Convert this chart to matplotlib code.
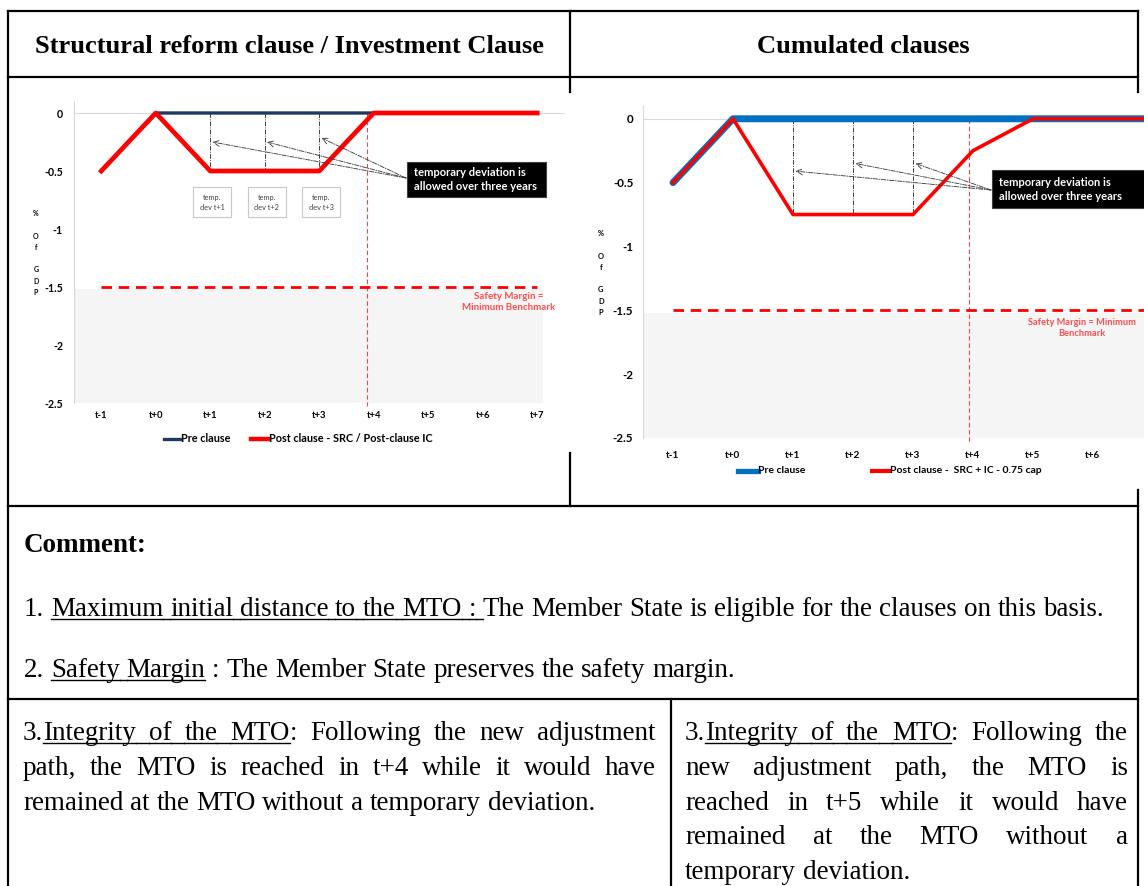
import numpy as np
import matplotlib
matplotlib.use("Agg")
import matplotlib.pyplot as plt
from matplotlib.lines import Line2D
from matplotlib.patches import Rectangle
from matplotlib.transforms import Affine2D

W, H = 1144, 886

periods = ["t-1", "t+0", "t+1", "t+2", "t+3", "t+4", "t+5", "t+6", "t+7"]
src_pre = [-0.5, 0, 0, 0, 0, 0, 0, 0, 0]
src_post = [-0.5, 0, -0.5, -0.5, -0.5, 0, 0, 0, 0]
cum_pre = [-0.5, 0, 0, 0, 0, 0, 0, 0, 0]
cum_post = [-0.5, 0, -0.75, -0.75, -0.75, -0.25, 0, 0, 0]
safety_margin = -1.5
yticks = [0, -0.5, -1, -1.5, -2, -2.5]
dev_years = ["t+1", "t+2", "t+3"]
mto_year = "t+4"
src_arrow_tips = [-0.25, -0.25, -0.215]
cum_arrow_tips = [-0.41, -0.35, -0.35]

SERIF = ["Liberation Serif", "DejaVu Serif"]
SANS = ["Lato", "DejaVu Sans"]

fig = plt.figure(figsize=(W / 100, H / 100), dpi=100)
px = Affine2D().scale(1 / W, -1 / H).translate(0, 1) + fig.transFigure
R = fig.canvas.get_renderer()


def width(s, **kw):
    t = fig.text(0, 0, s, **kw)
    w = t.get_window_extent(R).width
    t.remove()
    return w


def fit(s, target, **kw):
    return 10 * target / width(s, fontsize=10, **kw)


def hline(x0, x1, y, lw=1.6, color="black"):
    fig.add_artist(Line2D([x0, x1], [y, y], transform=px, color=color, lw=lw))


def vline(x, y0, y1, lw=1.6):
    fig.add_artist(Line2D([x, x], [y0, y1], transform=px, color="black", lw=lw))


def put(x, y, s, **kw):
    fig.text(x, y, s, transform=px, **kw)


def add_ax(x0, y0, x1, y1):
    return fig.add_axes([x0 / W, 1 - y1 / H, (x1 - x0) / W, (y1 - y0) / H])


# ---------- table frame ----------
hline(8, 1138, 11)
hline(8, 1138, 77)
hline(8, 1138, 506)
hline(8, 1138, 699)
vline(8, 11, 886)
vline(570, 11, 92)
vline(570, 453, 506)
vline(1138, 11, 92)
vline(1138, 490, 886)
vline(671, 699, 886)

head_kw = dict(family=SERIF, weight="bold")
head_size = fit("Structural reform clause / Investment Clause", 512, **head_kw)
put(289, 53, "Structural reform clause / Investment Clause", fontsize=head_size,
    ha="center", va="baseline", **head_kw)
put(863, 53, "Cumulated clauses", fontsize=head_size, ha="center", va="baseline", **head_kw)

body_size = fit("1. Maximum initial distance to the MTO : The Member State is eligible "
                "for the clauses on this basis.", 1082, family=SERIF)
body_kw = dict(family=SERIF, fontsize=body_size, color="black")
space = width("a a", **body_kw) - width("aa", **body_kw)


def write_line(s, x0, y, x1=None):
    # '_' toggles underline; x1 given -> justified between x0 and x1
    state = False
    words, gaps = [], []
    for n, w in enumerate(s.split(" ")):
        if n:
            gaps.append(state)
        pcs = []
        for k, p in enumerate(w.split("_")):
            if k:
                state = not state
            if p:
                pcs.append((p, state))
        words.append(pcs)
    ws = [[width(p, **body_kw) for p, _ in pcs] for pcs in words]
    tot = sum(sum(a) for a in ws)
    gap = space if x1 is None else (x1 - x0 - tot) / (len(words) - 1)
    x = x0
    for n, pcs in enumerate(words):
        if n:
            if gaps[n - 1]:
                hline(x, x + gap, y + 3, lw=1.0)
            x += gap
        for (p, ul), wd in zip(pcs, ws[n]):
            put(x, y, p, ha="left", va="baseline", **body_kw)
            if ul:
                hline(x, x + wd, y + 3, lw=1.0)
            x += wd


put(24, 552, "Comment:", ha="left", va="baseline", family=SERIF, weight="bold", fontsize=body_size)
write_line("1. _Maximum initial distance to the MTO : _The Member State is eligible for the clauses on this basis.", 24, 616)
write_line("2. _Safety Margin_ : The Member State preserves the safety margin.", 24, 677)

left_cell = ["3._Integrity of the MTO_: Following the new adjustment",
             "path, the MTO is reached in t+4 while it would have",
             "remained at the MTO without a temporary deviation."]
right_cell = ["3._Integrity of the MTO_: Following the",
              "new adjustment path, the MTO is",
              "reached in t+5 while it would have",
              "remained at the MTO without a",
              "temporary deviation."]
for i, s in enumerate(left_cell):
    write_line(s, 23, 740 + 34.8 * i, None if i == len(left_cell) - 1 else 656)
for i, s in enumerate(right_cell):
    write_line(s, 685, 740 + 34.8 * i, None if i == len(right_cell) - 1 else 1128)


# ---------- charts ----------
def draw_chart(ax, pre, post, pre_color, pre_lw, post_lw, tsize, xsize, ypad, xpad,
               mto_shift, tips, arrow_from):
    x = np.arange(len(periods))
    ax.set_xlim(-0.5, len(periods) - 0.5)
    ax.set_ylim(-2.5, 0.1)
    ax.set_facecolor("white")
    ax.fill_between([-0.5, 8.1], -2.5, -1.52, color="#f5f5f5", lw=0, zorder=0)
    ax.axhline(0, color="#d9d9d9", lw=0.8, zorder=1)
    for s in ["top", "right", "bottom"]:
        ax.spines[s].set_visible(False)
    ax.spines["left"].set_color("#d9d9d9")
    ax.spines["left"].set_linewidth(0.8)
    ax.set_xticks(x)
    ax.set_xticklabels(periods)
    ax.set_yticks(yticks)
    ax.set_yticklabels([f"{v:g}" for v in yticks])
    ax.tick_params(axis="y", length=0, pad=ypad, labelsize=tsize)
    ax.tick_params(axis="x", length=0, pad=xpad, labelsize=xsize)
    for lab in ax.get_xticklabels() + ax.get_yticklabels():
        lab.set_fontweight("bold")
        lab.set_family(SANS)
    ax.plot(x, pre, color=pre_color, lw=pre_lw, solid_capstyle="round", zorder=3)
    ax.plot(x, post, color="#ff0000", lw=post_lw, zorder=4)
    ax.plot([0, len(periods) - 1], [safety_margin] * 2, color="#ff0000", lw=2.0,
            dashes=(3.8, 2.4), zorder=3, clip_on=False)
    xm = periods.index(mto_year) - mto_shift
    ax.plot([xm, xm], [0, -2.53], color="#ff4040", lw=0.8, dashes=(4, 2.5),
            zorder=2, clip_on=False)
    for k, yr in enumerate(dev_years):
        i = periods.index(yr)
        ax.plot([i, i], [0, post[i]], color="#303030", lw=0.65,
                dashes=(5, 1.5, 1, 1.5), zorder=2)
        ax.annotate("", xy=(i + 0.04, tips[k]), xycoords="data",
                    xytext=arrow_from, textcoords=px,
                    arrowprops=dict(arrowstyle="->,head_length=0.45,head_width=0.22",
                                    color="#404040", lw=0.65,
                                    linestyle=(0, (5, 1.5, 1, 1.5)),
                                    shrinkA=0, shrinkB=0), zorder=5)
    return ax


# left chart
ax1 = add_ax(74, 101.4, 564.5, 403)
draw_chart(ax1, src_pre, src_post, "#1f3864", 2.4, 3.4, 7.6, 6.8, 8, 6,
           0.13, src_arrow_tips, (406, 178))
for yr in dev_years:
    ax1.text(periods.index(yr) + 0.04, -0.77, f"temp.\ndev {yr}", ha="center", va="center",
             fontsize=5.3, family=SANS, color="#404040", linespacing=1.45,
             bbox=dict(boxstyle="square,pad=0.9", fc="white", ec="#c8c8c8", lw=0.8), zorder=5)
fig.add_artist(Rectangle((407, 162), 139, 35, transform=px, fc="black", ec="#404040", lw=0.8))
box_size = fit("allowed over three years", 123, family=SANS, weight="bold")
put(414, 172, "temporary deviation is", ha="left", va="center", color="white",
    fontsize=box_size, family=SANS, weight="bold")
put(414, 187, "allowed over three years", ha="left", va="center", color="white",
    fontsize=box_size, family=SANS, weight="bold")
sm_size = fit("Minimum Benchmark", 94, family=SANS, weight="bold")
put(509, 302, "Safety Margin =\nMinimum Benchmark", ha="center", va="center",
    multialignment="center", color="#ff4d4d", fontsize=sm_size, family=SANS,
    weight="bold", linespacing=1.35)
put(36, 253, "%\n\nO\nf\n\nG\nD\nP", ha="center", va="center", fontsize=5.0,
    family=SANS, weight="bold", linespacing=1.7)
leg1 = fit("Post clause - SRC / Post-clause IC", 163, family=SANS, weight="bold")
hline(164, 181, 439, lw=2.4, color="#1f3864")
put(181, 439, "Pre clause", ha="left", va="center", fontsize=leg1, family=SANS, weight="bold")
hline(251, 269, 439, lw=3.2, color="#ff0000")
put(269, 439, "Post clause - SRC / Post-clause IC", ha="left", va="center",
    fontsize=leg1, family=SANS, weight="bold")

# right chart (runs past the page edge, as in the source document)
ax2 = add_ax(643, 106, 1183, 438)
draw_chart(ax2, cum_pre, cum_post, "#0070c0", 5.0, 2.6, 8.4, 7.2, 7, 9,
           0.07, cum_arrow_tips, (991, 190))
ax2.get_xticklabels()[-1].set_visible(False)
fig.add_artist(Rectangle((992, 170), 175, 38, transform=px, fc="black", ec="#404040", lw=0.8))
put(999, 182, "temporary deviation is", ha="left", va="center", color="white",
    fontsize=box_size, family=SANS, weight="bold")
put(999, 197, "allowed over three years", ha="left", va="center", color="white",
    fontsize=box_size, family=SANS, weight="bold")
put(1136, 328, "Safety Margin = Minimum\nBenchmark", ha="right", va="center",
    multialignment="center", color="#ff4d4d", fontsize=sm_size * 0.95, family=SANS,
    weight="bold", linespacing=1.3)
put(601, 273, "%\n\nO\nf\n\nG\nD\nP", ha="center", va="center", fontsize=5.4,
    family=SANS, weight="bold", linespacing=1.72)
leg2 = fit("Post clause -  SRC + IC - 0.75 cap", 152, family=SANS, weight="bold")
hline(738, 758, 471, lw=3.8, color="#0070c0")
put(758, 471, "Pre clause", ha="left", va="center", fontsize=leg2, family=SANS, weight="bold")
hline(872, 890, 471, lw=3.0, color="#ff0000")
put(890, 471, "Post clause -  SRC + IC - 0.75 cap", ha="left", va="center",
    fontsize=leg2, family=SANS, weight="bold")

fig.savefig("out.png", dpi=100)
